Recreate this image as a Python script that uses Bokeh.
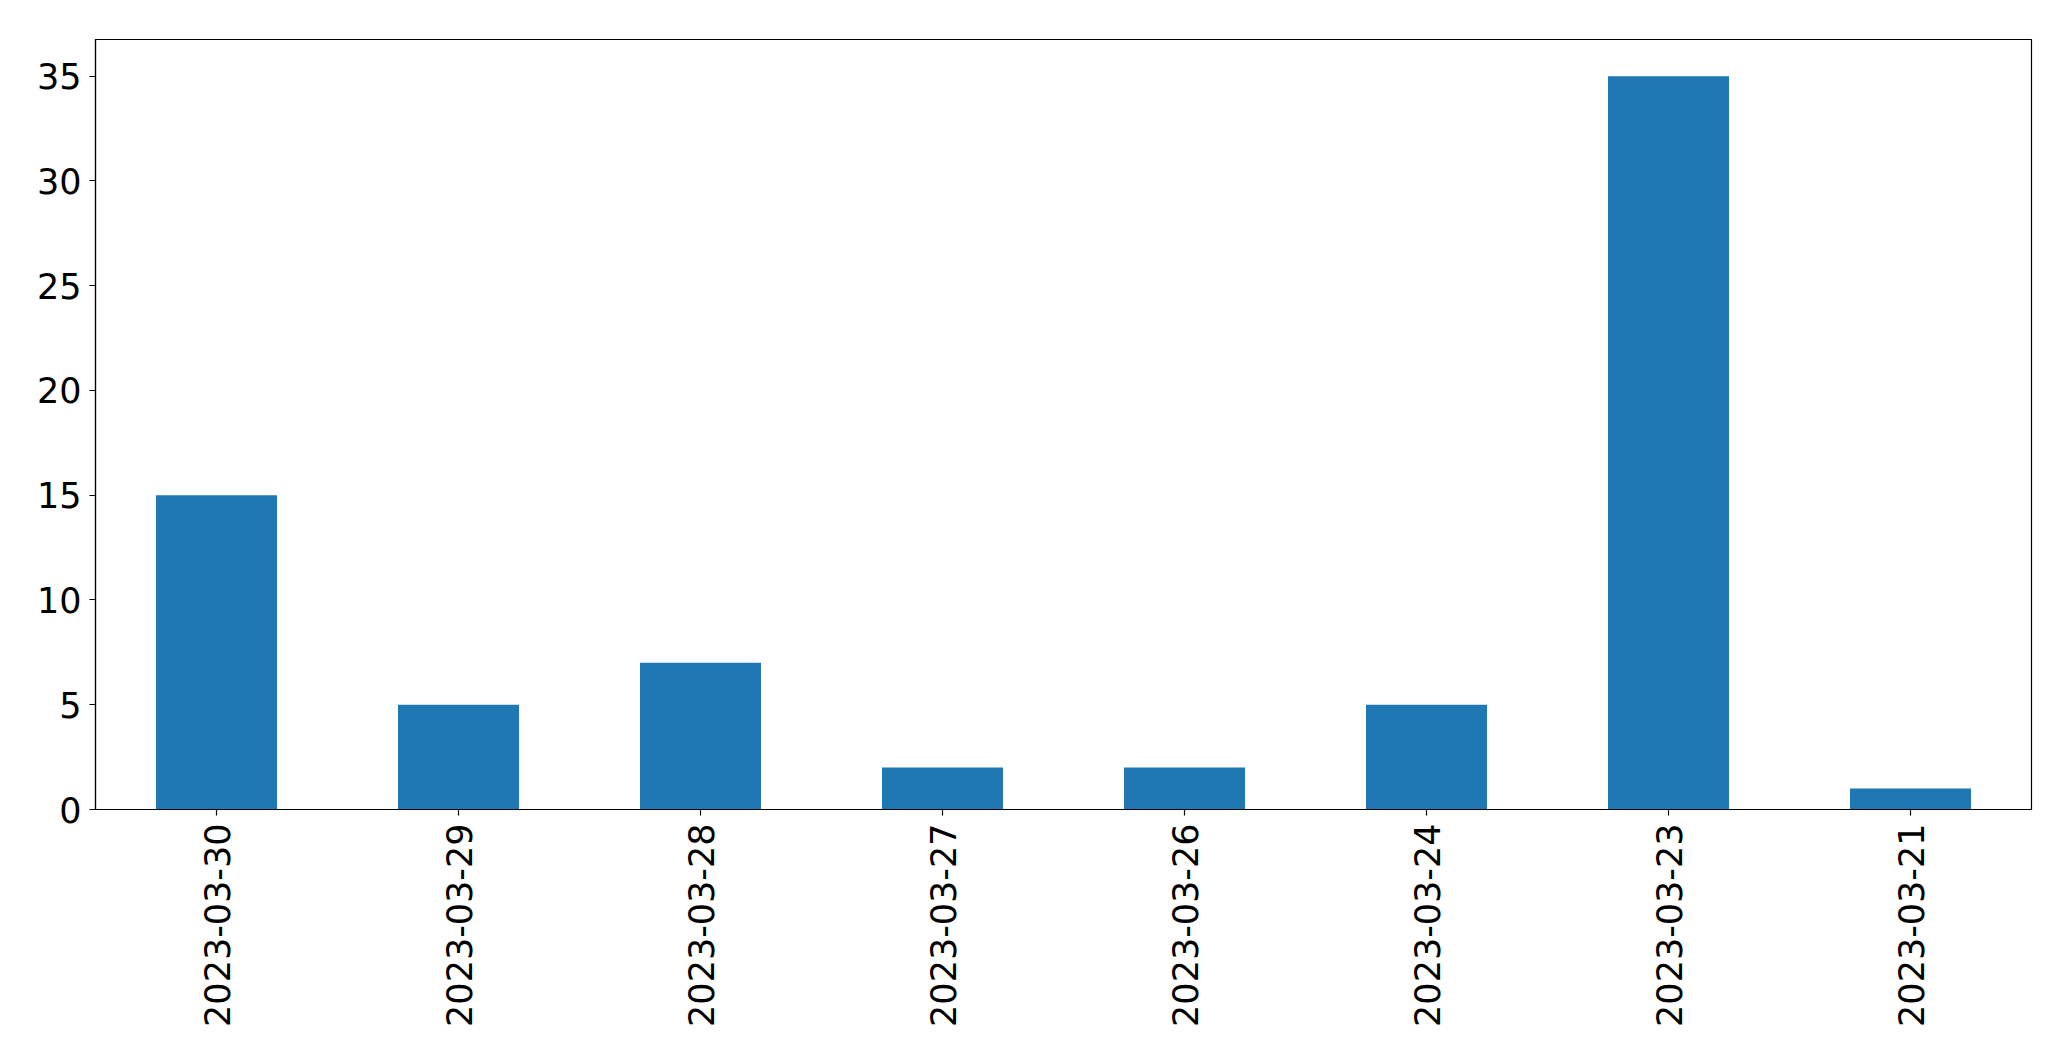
import math
from bokeh.plotting import figure
from bokeh.models import Range1d, FactorRange, FixedTicker
from bokeh.embed import file_html
from bokeh.resources import INLINE

dates = ["2023-03-30", "2023-03-29", "2023-03-28", "2023-03-27",
         "2023-03-26", "2023-03-24", "2023-03-23", "2023-03-21"]
counts = [15, 5, 7, 2, 2, 5, 35, 1]
y_ticks = [0, 5, 10, 15, 20, 25, 30, 35]

p = figure(width=2055, height=1045, output_backend="svg", toolbar_location=None,
           x_range=FactorRange(*dates), y_range=Range1d(0, max(counts) * 1.05),
           min_border_left=95, min_border_right=24, min_border_top=39, min_border_bottom=236)

p.vbar(x=dates, top=counts, width=0.5, fill_color="#1f77b4", line_color=None)

p.xgrid.visible = False
p.ygrid.visible = False
p.outline_line_color = "black"
p.outline_line_width = 1.2
p.background_fill_color = "white"
p.border_fill_color = "white"

p.yaxis.ticker = FixedTicker(ticks=y_ticks)
p.yaxis.minor_tick_line_color = None
for ax in (p.xaxis[0], p.yaxis[0]):
    ax.axis_line_color = "black"
    ax.axis_line_width = 1.2
    ax.major_tick_line_color = "black"
    ax.major_tick_line_width = 1.2
    ax.major_tick_in = 0
    ax.major_tick_out = 6
    ax.major_label_text_font = "DejaVu Sans"
    ax.major_label_text_font_size = "35px"
    ax.major_label_text_color = "black"
p.yaxis.major_label_standoff = 8
p.xaxis.major_label_standoff = 8
p.xaxis.major_label_orientation = math.pi / 2

open("out.html", "w").write(file_html(p, INLINE))
